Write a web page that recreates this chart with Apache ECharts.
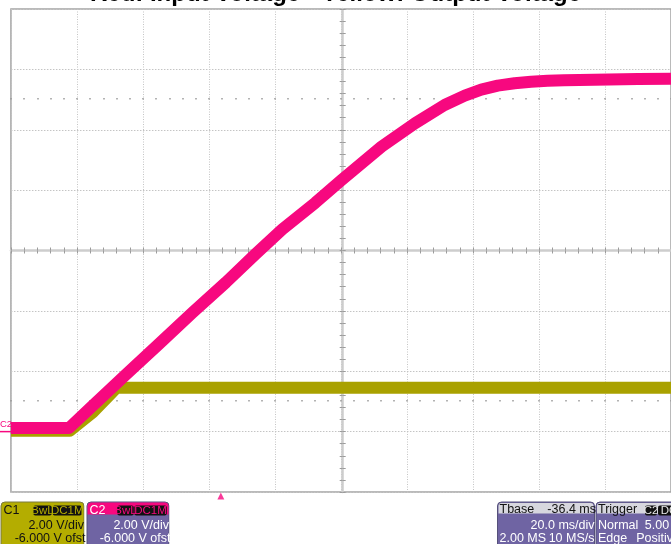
<!DOCTYPE html>
<html><head><meta charset="utf-8">
<script src="https://cdn.jsdelivr.net/npm/echarts@6/dist/echarts.min.js"></script>
<style>html,body{margin:0;padding:0;background:#fff;}#c{width:671px;height:544px;}</style>
</head><body><div id="c"></div>
<script>
// ---- data ----
const titleText = 'Red: Input Voltage - Yellow: Output Voltage';
const timeRangeMs = [0, 200];          // 10 div x 20 ms/div
const voltRange = [-2, 14];            // 8 div x 2 V/div, -6 V offset
const timeDivMs = 20;
const voltDiv = 2;
const inputTimeMs = [0, 17.6, 24.8, 34.9, 45.0, 55.0, 65.1, 74.1, 82.2, 92.2, 100.1, 112.3, 122.4, 131.4, 137.5, 142.5, 147.5, 152.6, 157.6, 162.6, 167.6, 176.7, 190, 200];
const inputVolts  = [0.12, 0.12, 0.86, 1.90, 2.92, 3.94, 4.94, 5.88, 6.70, 7.58, 8.33, 9.44, 10.21, 10.82, 11.13, 11.33, 11.46, 11.54, 11.59, 11.62, 11.64, 11.66, 11.68, 11.69];
const outputTimeMs = [0, 17.8, 24.8, 32.0, 200];
const outputVolts  = [0.03, 0.03, 0.64, 1.45, 1.45];
const triggerDelayMs = -36.4;
const markerRowsVolts = [11, 1];
const c1Lines = ['C1', 'BwL', 'DC1M', '2.00 V/div', '-6.000 V ofst'];
const c2Lines = ['C2', 'BwL', 'DC1M', '2.00 V/div', '-6.000 V ofst'];
const tbaseLines = ['Tbase', '-36.4 ms', '20.0 ms/div', '2.00 MS', '10 MS/s'];
const trigLines = ['Trigger', 'C2', 'DC', 'Normal', '5.00 V', 'Edge', 'Positive'];

// ---- layout ----
const L = 10.95, T = 9, W = 663.5, H = 483;
const PINK = '#f7087f', OLIVE = '#a9a100', PURPLE = '#6f64a3', BOXOLIVE = '#b4ad00';
const FONT = '"Liberation Sans Narrow","Arial Narrow","Liberation Sans",sans-serif';
const zip = (a, b) => a.map((v, i) => [v, b[i]]);
const yPix = v => T + H * (voltRange[1] - v) / (voltRange[1] - voltRange[0]);

const grids = [
  {left: L, top: T, width: W, height: H, show: true, borderColor: '#a4a4a4', borderWidth: 1.5, backgroundColor: '#fff'},
  {left: L, top: T, width: W, height: H / 2},
  {left: L, top: T + H / 2, width: W, height: H / 2},
  {left: L, top: T, width: W / 2, height: H},
  {left: L + W / 2, top: T, width: W / 2, height: H}
];
markerRowsVolts.forEach(v => grids.push({left: L, top: T, width: W, height: yPix(v) - T}));

const hidX = i => ({gridIndex: i, type: 'value', min: 0, max: 1, show: false});
const hidY = i => ({gridIndex: i, type: 'value', min: 0, max: 1, show: false});
const centerLine = {show: true, onZero: false, lineStyle: {color: '#cdcdcd', width: 2.5}};
const tick = (inside) => ({show: true, inside: inside, length: 3, lineStyle: {color: '#9c9c9c', width: 1}});
const noLab = {show: false};

const xAxes = [
  {gridIndex: 0, type: 'value', min: timeRangeMs[0], max: timeRangeMs[1], interval: timeDivMs,
   axisLine: {show: false}, axisTick: {show: false}, axisLabel: noLab,
   splitLine: {show: true, lineStyle: {color: '#c4c4c4', width: 1, type: [1, 1.5]}}},
  {gridIndex: 1, type: 'value', min: timeRangeMs[0], max: timeRangeMs[1], interval: timeDivMs / 5, position: 'bottom',
   axisLine: centerLine, axisTick: tick(true), axisLabel: noLab, splitLine: {show: false}},
  {gridIndex: 2, type: 'value', min: timeRangeMs[0], max: timeRangeMs[1], interval: timeDivMs / 5, position: 'top',
   axisLine: {show: false, onZero: false}, axisTick: tick(true), axisLabel: noLab, splitLine: {show: false}},
  hidX(3), hidX(4)
];
const yAxes = [
  {gridIndex: 0, type: 'value', min: voltRange[0], max: voltRange[1], interval: voltDiv,
   axisLine: {show: false}, axisTick: {show: false}, axisLabel: noLab,
   splitLine: {show: true, lineStyle: {color: '#c4c4c4', width: 1, type: [1.5, 1.5]}}},
  hidY(1), hidY(2),
  {gridIndex: 3, type: 'value', min: voltRange[0], max: voltRange[1], interval: voltDiv / 5, position: 'right',
   axisLine: centerLine, axisTick: tick(true), axisLabel: noLab, splitLine: {show: false}},
  {gridIndex: 4, type: 'value', min: voltRange[0], max: voltRange[1], interval: voltDiv / 5, position: 'left',
   axisLine: {show: false, onZero: false}, axisTick: tick(true), axisLabel: noLab, splitLine: {show: false}}
];
markerRowsVolts.forEach((v, k) => {
  const gi = 5 + k;
  xAxes.push({gridIndex: gi, type: 'value', min: timeRangeMs[0], max: timeRangeMs[1], interval: timeDivMs / 5, position: 'bottom',
    axisLine: {show: false, onZero: false}, axisLabel: noLab, splitLine: {show: false},
    axisTick: {show: true, inside: true, length: 1.5, lineStyle: {color: '#9a9a9a', width: 1.5}}});
  yAxes.push(hidY(gi));
});

// ---- bottom info panels ----
const g = [];
function rect(x, y, w, h, fill, r, stroke) {
  g.push({type: 'rect', z: 10, shape: {x, y, width: w, height: h, r: r || 0},
    style: {fill, stroke: stroke || null, lineWidth: stroke ? 1 : 0}});
}
function txt(s, x, y, align, color, size) {
  g.push({type: 'text', z: 11, x, y, style: {text: s, fill: color, fontSize: size || 12.5, fontFamily: FONT,
    align: align, verticalAlign: 'middle'}});
}
function tag(s, x, w, color) {
  rect(x, 505.5, w, 10, '#111', 2);
  txt(s, x + w / 2, 511, 'center', color, 11.5);
}
const ROW1 = 510.5, ROW2 = 525.5, ROW3 = 538.8;
// C1
rect(1, 502, 83, 50, BOXOLIVE, [4, 4, 0, 0], '#7a7a40');
txt(c1Lines[0], 3.5, ROW1, 'left', '#111');
tag(c1Lines[1], 33.3, 18.4, BOXOLIVE);
tag(c1Lines[2], 52.7, 29, BOXOLIVE);
txt(c1Lines[3], 84, ROW2, 'right', '#111');
txt(c1Lines[4], 85.5, ROW3, 'right', '#111');
rect(84.5, 500, 2.3, 44, '#fff');
// C2
rect(87, 502, 82, 50, PURPLE, [4, 4, 0, 0], '#55507a');
rect(87.5, 502.5, 81, 12, PINK, [4, 4, 0, 0]);
txt(c2Lines[0], 89.5, ROW1, 'left', '#fff');
tag(c2Lines[1], 117.3, 16.5, PINK);
tag(c2Lines[2], 134.3, 32.5, PINK);
txt(c2Lines[3], 169, ROW2, 'right', '#fff');
txt(c2Lines[4], 170.5, ROW3, 'right', '#fff');
rect(169.5, 500, 4, 44, '#fff');
// Tbase
rect(497.5, 502, 97, 50, PURPLE, [4, 4, 0, 0], '#55507a');
rect(498.5, 503, 95, 10.5, '#d7d7de', [3, 3, 0, 0]);
txt(tbaseLines[0], 499.5, ROW1 - 1, 'left', '#111');
txt(tbaseLines[1], 596, ROW1 - 1, 'right', '#111');
txt(tbaseLines[2], 594.5, ROW2, 'right', '#fff');
txt(tbaseLines[3], 499.5, ROW3, 'left', '#fff');
txt(tbaseLines[4], 594.5, ROW3, 'right', '#fff');
rect(595, 500, 1, 44, '#fff');
// Trigger
rect(596, 502, 90, 50, PURPLE, [4, 4, 0, 0], '#55507a');
rect(597, 503, 90, 10.5, '#d7d7de', [3, 3, 0, 0]);
txt(trigLines[0], 598, ROW1 - 1, 'left', '#111');
tag(trigLines[1], 645, 12, '#e6e6e6');
tag(trigLines[2], 658, 22, '#e6e6e6');
txt(trigLines[3], 598, ROW2, 'left', '#fff');
txt(trigLines[4], 681, ROW2, 'right', '#fff');
txt(trigLines[5], 598, ROW3, 'left', '#fff');
txt(trigLines[6], 680, ROW3, 'right', '#fff');
// C2 ground marker at 0 V
const y0 = yPix(0);
g.push({type: 'text', z: 11, x: 0, y: y0 - 7.5, style: {text: 'C2', fill: PINK, fontSize: 9.5, fontFamily: FONT, align: 'left', verticalAlign: 'middle'}});
g.push({type: 'line', z: 11, shape: {x1: 0, y1: y0, x2: L, y2: y0}, style: {stroke: PINK, lineWidth: 1.5}});

const chart = echarts.init(document.getElementById('c'), null, {renderer: 'canvas'});
chart.setOption({
  animation: false,
  backgroundColor: '#fff',
  title: {text: titleText, left: 'center', top: -18, padding: 0,
    textStyle: {fontSize: 24, fontWeight: 'bold', color: '#000', fontFamily: '"Liberation Sans",Arial,sans-serif'}},
  grid: grids,
  xAxis: xAxes,
  yAxis: yAxes,
  series: [
    {type: 'line', name: 'Output', xAxisIndex: 0, yAxisIndex: 0, data: zip(outputTimeMs, outputVolts),
     showSymbol: false, z: 3, lineStyle: {color: OLIVE, width: 12, join: 'round'}},
    {type: 'line', name: 'Input', xAxisIndex: 0, yAxisIndex: 0, data: zip(inputTimeMs, inputVolts),
     showSymbol: false, z: 4, lineStyle: {color: PINK, width: 12, join: 'round'}},
    {type: 'scatter', name: 'Trigger', xAxisIndex: 0, yAxisIndex: 0, clip: false, silent: true,
     data: [[(timeRangeMs[0] + timeRangeMs[1]) / 2 + triggerDelayMs, voltRange[0]]],
     symbol: 'triangle', symbolSize: [7, 7], symbolOffset: [0, 4], itemStyle: {color: PINK}, z: 5}
  ],
  graphic: g
});
</script></body></html>
